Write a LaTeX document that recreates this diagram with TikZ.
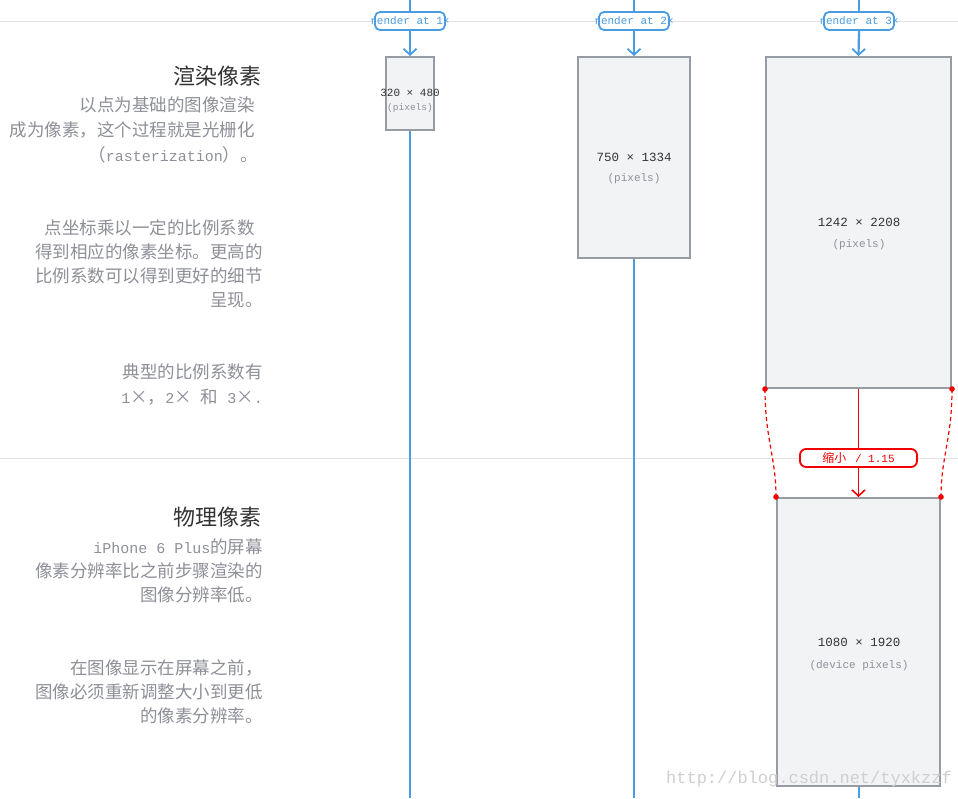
\documentclass[tikz,border=0pt]{standalone}
\usepackage{fontspec}
\setmainfont{Noto Sans CJK SC}
\newfontfamily\mono{Liberation Mono}
\usetikzlibrary{arrows.meta}
\definecolor{blueline}{HTML}{4A9DE2}
\definecolor{boxfill}{HTML}{F2F3F5}
\definecolor{boxedge}{HTML}{979BA3}
\definecolor{gridgrey}{HTML}{E3E3E3}
\definecolor{txtgrey}{HTML}{8E9098}
\definecolor{titlegrey}{HTML}{333333}
\definecolor{redline}{HTML}{F20000}
\definecolor{wmgrey}{HTML}{CFCFCF}
\newcommand\latn[1]{{\mono\fontsize{15}{15}\selectfont #1}}
\newcommand\latnsmall[1]{{\mono\fontsize{11}{11}\selectfont #1}}
\tikzset{
  gridline/.style={draw=gridgrey, line width=1pt},
  vline/.style={draw=blueline, line width=2.2pt},
  varrow/.style={vline, -{Straight Barb[length=6pt,width=13pt,line width=1.8pt]}},
  rarrow/.style={draw=redline, line width=1.8pt, -{Straight Barb[length=6pt,width=13pt,line width=1.6pt]}},
  rcurve/.style={draw=redline, line width=1.2pt, dash pattern=on 4pt off 3pt},
  tagbox/.style={draw=blueline, line width=1.8pt, fill=white, rounded corners=5pt,
    minimum width=70pt, minimum height=18pt, inner sep=0pt, text=blueline,
    font=\mono\fontsize{11}{11}\selectfont},
  redtag/.style={draw=redline, line width=1.8pt, fill=white, rounded corners=6pt,
    minimum width=117pt, minimum height=18pt, inner sep=0pt, text=redline,
    font=\fontsize{12}{12}\selectfont},
  pixbox/.style={draw=boxedge, line width=2pt, fill=boxfill, inner sep=0pt},
  dimtext/.style={text=titlegrey, inner sep=0pt, font=\mono\fontsize{12.5}{12.5}\selectfont},
  unittext/.style={text=txtgrey, inner sep=0pt, font=\mono\fontsize{11}{11}\selectfont},
  headtext/.style={anchor=east, text=titlegrey, inner sep=0pt, font=\fontsize{22}{22}\selectfont},
  paratext/.style={anchor=east, text=txtgrey, inner sep=0pt, font=\fontsize{17.5}{17.5}\selectfont},
  wmtext/.style={text=wmgrey, inner sep=0pt, font=\mono\fontsize{17}{17}\selectfont},
  rdot/.style={fill=redline},
}
\begin{document}
\begin{tikzpicture}[x=1pt,y=-1pt]
\useasboundingbox (0,0) rectangle (958,798);
\fill[white] (0,0) rectangle (958,798);
% grid lines
\coordinate (gl1) at (0,21); \coordinate (gr1) at (958,21);
\coordinate (gl2) at (0,458); \coordinate (gr2) at (958,458);
\draw[gridline] (gl1) -- (gr1);
\draw[gridline] (gl2) -- (gr2);
% column ends
\coordinate (t1) at (410,0); \coordinate (e1) at (410,798);
\coordinate (t2) at (634,0); \coordinate (e2) at (634,798);
\coordinate (t3) at (859,0); \coordinate (e3) at (859,798);
% boxes
\node[pixbox, minimum width=48pt, minimum height=73pt] (box1) at (410,93.5) {};
\node[pixbox, minimum width=112pt, minimum height=201pt] (box2) at (634,157.5) {};
\node[pixbox, minimum width=185pt, minimum height=331pt] (box3) at (858.5,222.5) {};
\node[pixbox, minimum width=163pt, minimum height=288pt] (box4) at (858.5,642) {};
% tags
\node[tagbox] (tag1) at (410,21) {\makebox[70pt][c]{render at 1×}};
\node[tagbox] (tag2) at (634,21) {\makebox[70pt][c]{render at 2×}};
\node[tagbox] (tag3) at (859,21) {\makebox[70pt][c]{render at 3×}};
% blue lines
\draw[vline] (t1) -- (tag1.north);
\draw[vline] (t2) -- (tag2.north);
\draw[vline] (t3) -- (tag3.north);
\draw[varrow] (tag1.south) -- (box1.north);
\draw[varrow] (tag2.south) -- (box2.north);
\draw[varrow] (tag3.south) -- (box3.north);
\draw[vline] (box1.south) -- (e1);
\draw[vline] (box2.south) -- (e2);
\draw[vline] (box4.south -| e3) -- (e3);
% red scaling
\draw[rarrow] (box3.south) -- (box4.north);
\draw[rcurve] (box3.south west) .. controls ([yshift=-50pt]box3.south west) and ([yshift=40pt]box4.north west) .. (box4.north west);
\draw[rcurve] (box3.south east) .. controls ([yshift=-50pt]box3.south east) and ([yshift=40pt]box4.north east) .. (box4.north east);
\fill[rdot] (box3.south west) circle (2.8pt);
\fill[rdot] (box3.south east) circle (2.8pt);
\fill[rdot] (box4.north west) circle (2.8pt);
\fill[rdot] (box4.north east) circle (2.8pt);
\node[redtag] (scale) at (858.5,458) {缩小\,\latnsmall{ / 1.15}};
% box texts
\node[dimtext, font=\mono\fontsize{11}{11}\selectfont] (d1) at (410,93) {320 × 480};
\node[unittext, font=\mono\fontsize{9.5}{9.5}\selectfont] (u1) at (410,108) {(pixels)};
\node[dimtext] (d2) at (634,157) {750 × 1334};
\node[unittext] (u2) at (634,179) {(pixels)};
\node[dimtext] (d3) at (859,222) {1242 × 2208};
\node[unittext] (u3) at (859,245) {(pixels)};
\node[dimtext] (d4) at (859,642) {1080 × 1920};
\node[unittext] (u4) at (859,666) {(device pixels)};
% left texts
\node[headtext] (h1) at (262,76) {渲染像素};
\node[paratext] (p1a) at (255,105) {以点为基础的图像渲染};
\node[paratext] (p1b) at (255,130) {成为像素，这个过程就是光栅化};
\node[paratext] (p1c) at (258,155) {（\latn{rasterization}）。};
\node[paratext] (p2a) at (255,228) {点坐标乘以一定的比例系数};
\node[paratext] (p2b) at (263,252) {得到相应的像素坐标。更高的};
\node[paratext] (p2c) at (263,276) {比例系数可以得到更好的细节};
\node[paratext] (p2d) at (263,300) {呈现。};
\node[paratext] (p3a) at (263,372) {典型的比例系数有};
\node[paratext] (p3b) at (263,397) {\latn{1}×，\latn{2}×\hspace{9pt}和\hspace{9pt}\latn{3}×\latn{.}};
\node[headtext] (h2) at (262,517) {物理像素};
\node[paratext] (p4a) at (263,547) {\latn{iPhone 6 Plus}的屏幕};
\node[paratext] (p4b) at (263,571) {像素分辨率比之前步骤渲染的};
\node[paratext] (p4c) at (263,595) {图像分辨率低。};
\node[paratext] (p5a) at (263,668) {在图像显示在屏幕之前，};
\node[paratext] (p5b) at (263,692) {图像必须重新调整大小到更低};
\node[paratext] (p5c) at (263,716) {的像素分辨率。};
% watermark
\node[wmtext] (wm) at (809,779) {http://blog.csdn.net/tyxkzzf};
\end{tikzpicture}
\end{document}
